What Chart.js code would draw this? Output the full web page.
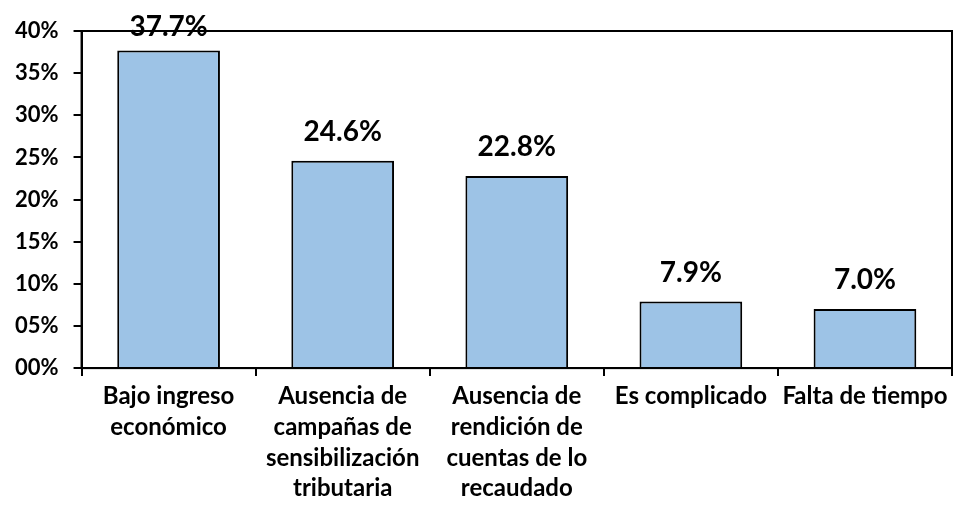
<!DOCTYPE html>
<html>
<head>
<meta charset="utf-8">
<script src="https://cdn.jsdelivr.net/npm/chart.js@4/dist/chart.umd.min.js"></script>
<style>
html,body{margin:0;padding:0;background:#fff;}
#wrap{width:955px;height:509px;position:relative;}
</style>
</head>
<body>
<div id="wrap"><canvas id="c" width="955" height="509"></canvas></div>
<script>
const categories = [
  ['Bajo ingreso', 'económico'],
  ['Ausencia de', 'campañas de', 'sensibilización', 'tributaria'],
  ['Ausencia de', 'rendición de', 'cuentas de lo', 'recaudado'],
  ['Es complicado'],
  ['Falta de tiempo']
];
const values = [37.7, 24.6, 22.8, 7.9, 7.0];
const valueLabels = ['37.7%', '24.6%', '22.8%', '7.9%', '7.0%'];
const yTickLabels = ['00%', '05%', '10%', '15%', '20%', '25%', '30%', '35%', '40%'];

const FONT = 'Lato, "Open Sans", sans-serif';

const framePlugin = {
  id: 'frame',
  afterDatasetsDraw(chart) {
    const {ctx, chartArea: a} = chart;
    ctx.save();
    ctx.strokeStyle = '#000';
    ctx.lineWidth = 2;
    ctx.strokeRect(a.left, a.top, a.right - a.left, a.bottom - a.top);
    ctx.restore();
  },
  afterDraw(chart) {
    const {ctx} = chart;
    const meta = chart.getDatasetMeta(0);
    ctx.save();
    ctx.fillStyle = '#000';
    ctx.font = 'bold 28px ' + FONT;
    ctx.textAlign = 'center';
    ctx.textBaseline = 'middle';
    meta.data.forEach((bar, i) => {
      ctx.fillText(valueLabels[i], bar.x, Math.max(bar.y - 29, 27));
    });
    ctx.restore();
  }
};

new Chart(document.getElementById('c'), {
  type: 'bar',
  data: {
    labels: categories,
    datasets: [{
      data: values,
      backgroundColor: '#9DC3E6',
      borderColor: '#000',
      borderWidth: 2,
      categoryPercentage: 1,
      barPercentage: 0.59
    }]
  },
  options: {
    responsive: false,
    animation: false,
    devicePixelRatio: 1,
    layout: { padding: { top: 31, right: 3, left: 0, bottom: 0 } },
    plugins: { legend: { display: false }, tooltip: { enabled: false } },
    scales: {
      x: {
        offset: true,
        grid: { display: true, drawOnChartArea: false, drawTicks: true, tickLength: 8, color: '#000', lineWidth: 2, offset: true },
        border: { color: '#000', width: 2 },
        ticks: { color: '#000', font: { family: FONT, weight: 'bold', size: 24, lineHeight: 1.28 }, maxRotation: 0, autoSkip: false, padding: 5 }
      },
      y: {
        min: 0, max: 40,
        grid: { display: true, drawOnChartArea: false, drawTicks: true, tickLength: 8, color: '#000', lineWidth: 2 },
        border: { color: '#000', width: 2 },
        ticks: {
          stepSize: 5, color: '#000', padding: 15,
          font: { family: FONT, weight: 'bold', size: 22 },
          callback: (v, i) => yTickLabels[i]
        }
      }
    }
  },
  plugins: [framePlugin]
});
</script>
</body>
</html>
